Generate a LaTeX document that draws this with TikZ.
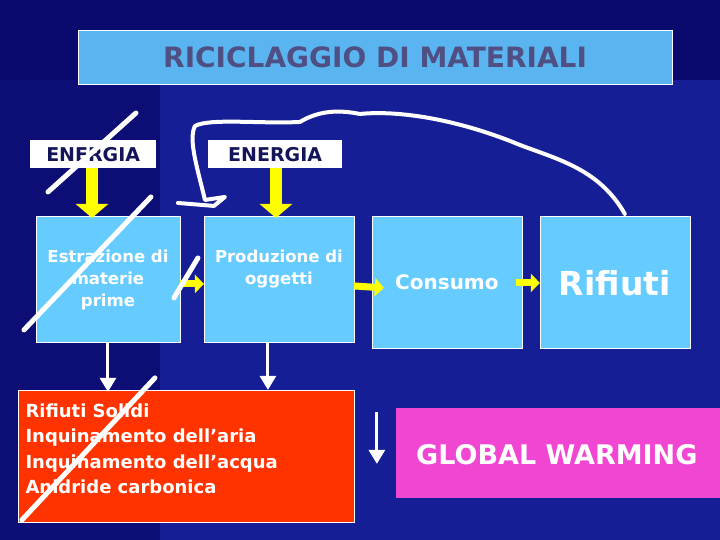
\documentclass[tikz,border=0pt]{standalone}
\usepackage{fontspec}
\setmainfont{DejaVu Sans}
\definecolor{bgA}{RGB}{10,10,110}
\definecolor{bgB}{RGB}{22,30,150}
\definecolor{boxb}{RGB}{102,204,255}
\definecolor{titleb}{RGB}{90,180,240}
\definecolor{navy}{RGB}{20,20,90}
\definecolor{redb}{RGB}{255,51,0}
\definecolor{magb}{RGB}{240,70,210}
\definecolor{yel}{RGB}{255,255,0}
\begin{document}
\begin{tikzpicture}[x=1pt,y=-1pt,
  sbox/.style={draw=white,line width=0.8pt,fill=boxb,anchor=north west,inner sep=0pt},
  ebox/.style={fill=white,anchor=north west,inner sep=0pt,minimum width=#1,minimum height=28,font=\fontsize{19}{20}\selectfont\bfseries,text=navy},
  btxt/.style={text=white,align=center,font=\fontsize{16.5}{22}\selectfont\bfseries},
  yarr/.style={yel,line width=12pt,-{Triangle[length=14pt,width=32pt]}},
  ysm/.style={yel,line width=7pt,-{Triangle[length=9pt,width=18pt]}},
  warr/.style={white,line width=3pt,-{Triangle[length=14pt,width=16pt]}},
  strike/.style={white,line width=5pt,line cap=round}]
\usetikzlibrary{arrows.meta}
\fill[bgA] (0,0) rectangle (720,540);
\fill[bgB] (0,80) rectangle (720,540);
\fill[bgA!80!bgB] (0,80) rectangle (160,540);
% title
\node[draw=white,fill=titleb,anchor=north west,minimum width=594,minimum height=54,inner sep=0pt] (title) at (78,30) {};
\node[text=navy!75!white,font=\fontsize{28}{30}\selectfont\bfseries] at (title.center) {RICICLAGGIO DI MATERIALI};
% energia
\node[ebox=126] (e1) at (30,140) {ENERGIA};
\node[ebox=134] (e2) at (208,140) {ENERGIA};
% boxes
\node[sbox,minimum width=144,minimum height=126] (b1) at (36,216) {};
\node[sbox,minimum width=150,minimum height=126] (b2) at (204,216) {};
\node[sbox,minimum width=150,minimum height=132] (b3) at (372,216) {};
\node[sbox,minimum width=150,minimum height=132] (b4) at (540,216) {};
\node[btxt] (t1) at (108,280) {Estrazione di\\materie\\prime};
\node[btxt] (t2) at (279,269) {Produzione di\\oggetti};
\node[btxt,font=\fontsize{20}{22}\selectfont\bfseries] (t3) at (447,282) {Consumo};
\node[btxt,font=\fontsize{33}{34}\selectfont\bfseries] (t4) at (615,283) {Rifiuti};
% yellow arrows
\draw[yarr] (92,168) -- (92,218);
\draw[yarr] (276,168) -- (276,218);
\draw[ysm] (180,284) -- (204,284);
\draw[ysm] (354,286) -- (384,288);
\draw[ysm] (516,283) -- (540,283);
% red box
\node[draw=white,fill=redb,anchor=north west,minimum width=336,minimum height=132,inner sep=0pt] (red) at (18,390) {};
\node[anchor=north west,text=white,align=left,font=\fontsize{18}{25.5}\selectfont\bfseries] (rt) at (22,400) {Rifiuti Solidi\\Inquinamento dell’aria\\Inquinamento dell’acqua\\Anidride carbonica};
% global warming
\node[fill=magb,anchor=north west,minimum width=324,minimum height=90,inner sep=0pt] (gw) at (396,408) {};
\node[text=white,font=\fontsize{27}{28}\selectfont\bfseries] at (557,455) {GLOBAL WARMING};
% white arrows
\draw[warr] (108,342) coordinate (a1) -- (108,392);
\draw[warr] (268,342) coordinate (a2) -- (268,390);
\draw[warr] (377,412) coordinate (a3) -- (377,464);
% strikes
\draw[strike] (136,113) -- (48,192);
\draw[strike] (151,197) -- (24,330);
\draw[strike] (198,258) -- (174,298);
\draw[strike] (155,378) -- (22,520);
% hand-drawn curve
\draw[white,line width=4pt,line cap=round,line join=round]
  (625,214) .. controls (600,170) and (560,160) .. (520,145)
  .. controls (460,120) and (400,110) .. (360,114)
  .. controls (340,110) and (320,110) .. (300,122)
  .. controls (260,124) and (210,118) .. (195,126)
  .. controls (188,140) and (198,170) .. (205,200)
  -- (225,197) -- (214,206) -- (178,203);
\end{tikzpicture}
\end{document}
